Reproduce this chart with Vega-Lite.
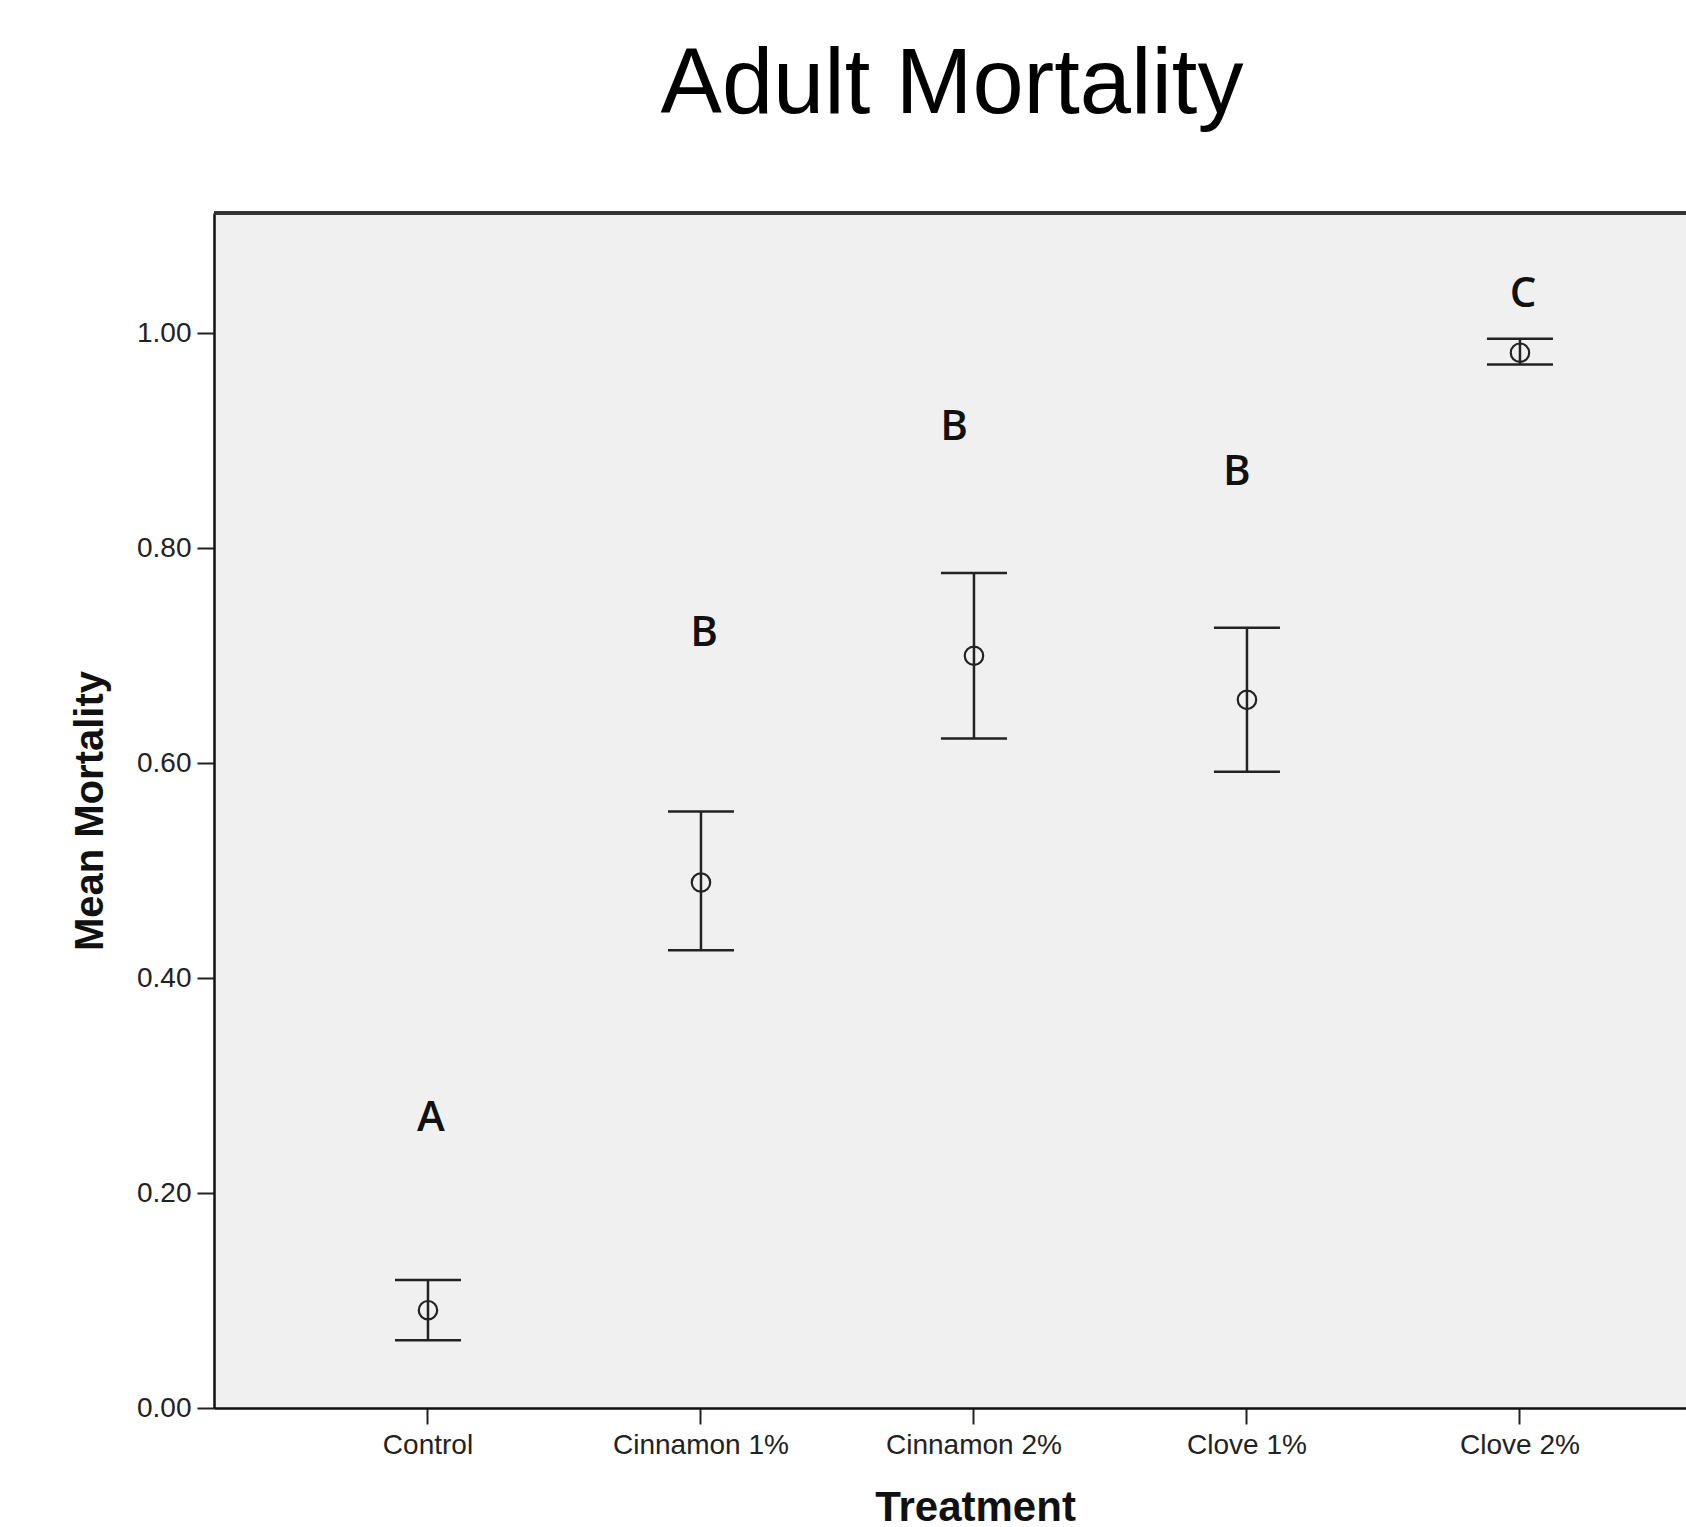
{
  "$schema": "https://vega.github.io/schema/vega-lite/v6.json",
  "autosize": {"type": "none"},
  "padding": {"left": 214, "top": 213, "right": 0, "bottom": 119},
  "width": 1472,
  "height": 1195,
  "background": "white",
  "config": {
    "view": {"stroke": null, "fill": "#F0F0F0"},
    "font": "Liberation Sans"
  },
  "title": {
    "text": "Adult Mortality",
    "font": "Liberation Sans",
    "fontSize": 92,
    "fontWeight": "normal",
    "color": "#000000",
    "anchor": "middle",
    "frame": "group",
    "baseline": "alphabetic",
    "offset": 7,
    "dx": 2
  },
  "data": {
    "values": [
      {"Treatment": "Control", "mean": 0.091, "lower": 0.063, "upper": 0.119, "letter": "A", "letterY": 0.270},
      {"Treatment": "Cinnamon 1%", "mean": 0.489, "lower": 0.426, "upper": 0.555, "letter": "B", "letterY": 0.721},
      {"Treatment": "Cinnamon 2%", "mean": 0.700, "lower": 0.623, "upper": 0.777, "letter": "B", "letterY": 0.913},
      {"Treatment": "Clove 1%", "mean": 0.659, "lower": 0.592, "upper": 0.726, "letter": "B", "letterY": 0.871},
      {"Treatment": "Clove 2%", "mean": 0.982, "lower": 0.971, "upper": 0.995, "letter": "C", "letterY": 1.037}
    ]
  },
  "layer": [
    {
      "encoding": {
        "x": {
          "field": "Treatment",
          "type": "nominal",
          "sort": null,
          "scale": {"type": "band", "paddingInner": 0, "paddingOuter": 0.196, "align": 0.724},
          "axis": {
            "title": "Treatment",
            "titleFont": "Liberation Sans",
            "titleFontSize": 42,
            "titleFontWeight": "bold",
            "titleColor": "#111111",
            "titlePadding": 28,
            "titleX": 761,
            "labelAngle": 0,
            "labelFont": "Liberation Sans",
            "labelFontSize": 28,
            "labelColor": "#222222",
            "labelPadding": 7,
            "tickSize": 16,
            "tickWidth": 2,
            "tickColor": "#222222",
            "domainColor": "#111111",
            "domainWidth": 2.5,
            "grid": false
          }
        }
      },
      "layer": [
        {
          "mark": {"type": "rule", "color": "#222222", "strokeWidth": 2.5},
          "encoding": {
            "y": {
              "field": "lower",
              "type": "quantitative",
              "scale": {"domain": [0, 1.112], "nice": false, "zero": true},
              "axis": {
                "title": "Mean Mortality",
                "titleFont": "Liberation Sans",
                "titleFontSize": 40,
                "titleFontWeight": "bold",
                "titleColor": "#111111",
                "titlePadding": 26,
                "values": [0, 0.2, 0.4, 0.6, 0.8, 1.0],
                "format": ".2f",
                "labelFont": "Liberation Sans",
                "labelFontSize": 28,
                "labelColor": "#222222",
                "labelPadding": 6,
                "tickSize": 17,
                "tickWidth": 2,
                "tickColor": "#222222",
                "domainColor": "#111111",
                "domainWidth": 2.5,
                "grid": false
              }
            },
            "y2": {"field": "upper"}
          }
        },
        {
          "mark": {"type": "tick", "color": "#222222", "thickness": 2.5, "size": 66, "opacity": 1},
          "encoding": {"y": {"field": "upper", "type": "quantitative"}}
        },
        {
          "mark": {"type": "tick", "color": "#222222", "thickness": 2.5, "size": 66, "opacity": 1},
          "encoding": {"y": {"field": "lower", "type": "quantitative"}}
        },
        {
          "mark": {"type": "point", "shape": "circle", "filled": false, "size": 340, "stroke": "#222222", "strokeWidth": 2.2, "opacity": 1},
          "encoding": {"y": {"field": "mean", "type": "quantitative"}}
        },
        {
          "transform": [{"filter": "datum.Treatment === 'Control' || datum.Treatment === 'Cinnamon 1%' || datum.Treatment === 'Clove 2%'"}],
          "mark": {"type": "text", "font": "Open Sans", "fontSize": 42, "fontWeight": 600, "color": "#111111", "baseline": "middle", "dx": 3},
          "encoding": {"y": {"field": "letterY", "type": "quantitative"}, "text": {"field": "letter"}}
        },
        {
          "transform": [{"filter": "datum.Treatment === 'Cinnamon 2%'"}],
          "mark": {"type": "text", "font": "Open Sans", "fontSize": 42, "fontWeight": 600, "color": "#111111", "baseline": "middle", "dx": -20},
          "encoding": {"y": {"field": "letterY", "type": "quantitative"}, "text": {"field": "letter"}}
        },
        {
          "transform": [{"filter": "datum.Treatment === 'Clove 1%'"}],
          "mark": {"type": "text", "font": "Open Sans", "fontSize": 42, "fontWeight": 600, "color": "#111111", "baseline": "middle", "dx": -10},
          "encoding": {"y": {"field": "letterY", "type": "quantitative"}, "text": {"field": "letter"}}
        }
      ]
    },
    {
      "mark": {"type": "rule", "color": "#333333", "strokeWidth": 3},
      "encoding": {"y": {"datum": 1.112, "type": "quantitative"}}
    }
  ]
}
